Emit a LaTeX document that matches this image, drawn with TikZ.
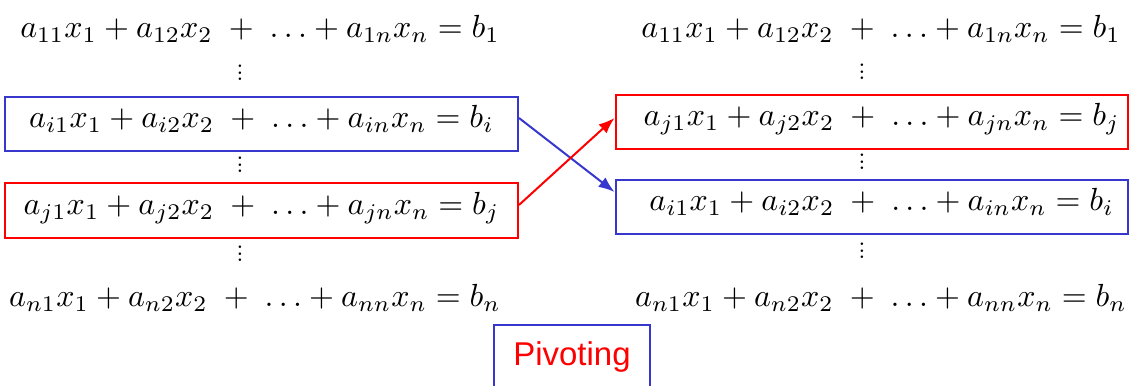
\documentclass[tikz,border=0pt]{standalone}
\usepackage{fontspec}
\usepackage{amsmath}
\usetikzlibrary{arrows.meta}
\newfontfamily\pivfont{Liberation Sans}
\definecolor{rowblue}{RGB}{55,55,205}
\definecolor{rowred}{RGB}{255,0,0}
\newcommand{\lineq}[1]{$a_{#11}x_1+a_{#12}x_2\;+\;\ldots+a_{#1n}x_n=b_{#1}$}
\newcommand{\rdots}{\vbox{\fontsize{7}{8}\selectfont\baselineskip2pt\lineskiplimit-2pt\hbox{.}\hbox{.}\hbox{.}}}
\tikzset{
  eqrow/.style={anchor=base, inner sep=0pt},
  eqbox/.style={draw, line width=0.625pt, minimum width=160.3pt, minimum height=16.9pt, inner sep=0pt, text height=6.25pt, text depth=3.75pt},
  rowdots/.style={inner sep=0pt},
  swap/.style={line width=0.625pt, -{Latex[length=5pt,width=3.75pt]}},
}
\begin{document}
\begin{tikzpicture}[x=0.3125pt,y=-0.3125pt]
\useasboundingbox (0,0) rectangle (1139,386);
% before pivoting
\node[eqrow] (l1) at (260,38) {\lineq{1}};
\node[rowdots] (ld1) at (240,73) {\rdots};
\node[eqbox,draw=rowblue] (li) at (261.5,124) {\lineq{i}};
\node[rowdots] (ld2) at (240,165) {\rdots};
\node[eqbox,draw=rowred] (lj) at (261.5,210.5) {\lineq{j}};
\node[rowdots] (ld3) at (240,254) {\rdots};
\node[eqrow] (ln) at (255,307) {\lineq{n}};
% after pivoting
\node[eqrow] (r1) at (881,38) {\lineq{1}};
\node[rowdots] (rd1) at (862,72) {\rdots};
\node[eqbox,draw=rowred] (rj) at (872,122) {\hspace*{6pt}\lineq{j}};
\node[rowdots] (rd2) at (862,162) {\rdots};
\node[eqbox,draw=rowblue] (ri) at (872,207) {\hspace*{6pt}\lineq{i}};
\node[rowdots] (rd3) at (862,251) {\rdots};
\node[eqrow] (rn) at (881,307) {\lineq{n}};
% row swap
\draw[swap,rowblue] ([yshift=1.875pt]li.east)--([yshift=4.69pt]ri.west);
\draw[swap,rowred] ([yshift=1.72pt]lj.east)--([yshift=1.25pt]rj.west);
\node[draw=rowblue,line width=0.625pt,minimum width=48.75pt,minimum height=20pt,
  font=\pivfont\fontsize{10.3}{12}\selectfont,text=rowred] (piv) at (572,357) {Pivoting};
\end{tikzpicture}
\end{document}
